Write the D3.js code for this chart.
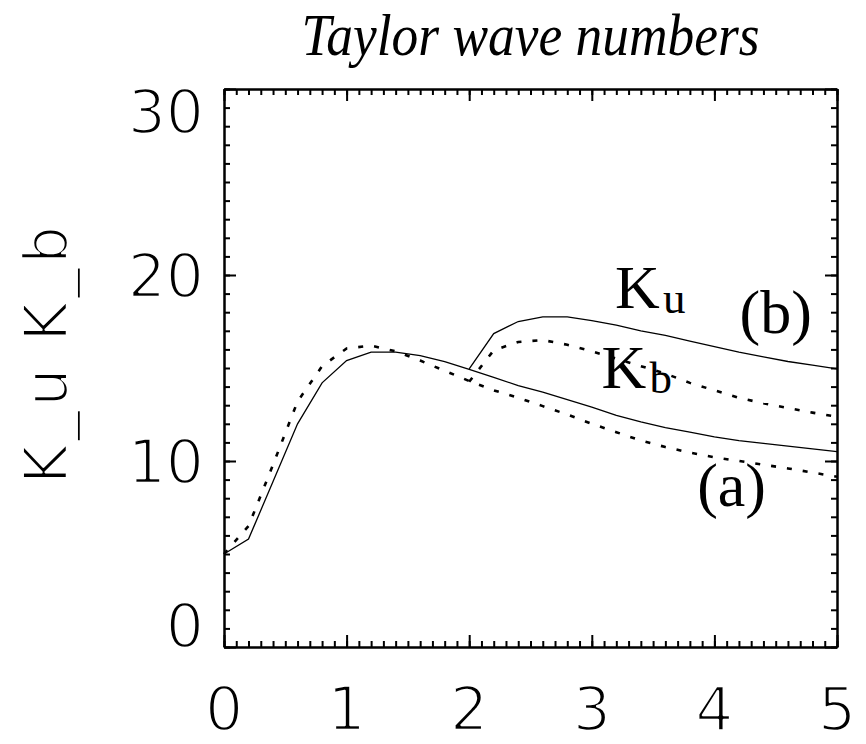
<!DOCTYPE html>
<html>
<head>
<meta charset="utf-8">
<script src="https://cdn.jsdelivr.net/npm/d3@7"></script>
<style>
  html, body { margin: 0; padding: 0; background: #fff; }
  svg { display: block; }
</style>
</head>
<body>
<svg id="chart" width="866" height="744"></svg>
<script>
// ---------- data ----------
const title = "Taylor wave numbers";
const yAxisTitle = "K_u K_b";
const xTicks = [0, 1, 2, 3, 4, 5];
const yTicks = [0, 10, 20, 30];

// curve (a): x from 0 to 5 step 0.2
const xA = [0, 0.2, 0.4, 0.6, 0.8, 1.0, 1.2, 1.4, 1.6, 1.8, 2.0, 2.2, 2.4, 2.6, 2.8, 3.0,
            3.2, 3.4, 3.6, 3.8, 4.0, 4.2, 4.4, 4.6, 4.8, 5.0];
const kuA = [5.0, 5.8, 8.9, 12.0, 14.2, 15.4, 15.85, 15.85, 15.66, 15.34, 14.93, 14.5, 14.05, 13.7, 13.3, 12.9,
             12.45, 12.1, 11.8, 11.55, 11.3, 11.1, 10.95, 10.8, 10.65, 10.5];
const kbA = [5.0, 6.5, 9.8, 13.2, 15.1, 16.05, 16.2, 15.9, 15.4, 14.85, 14.3, 13.8, 13.4, 12.95, 12.5, 12.0,
             11.55, 11.1, 10.75, 10.45, 10.2, 10.0, 9.8, 9.6, 9.38, 9.15];

// curve (b): x from 2 to 5 step 0.2
const xB = [2.0, 2.2, 2.4, 2.6, 2.8, 3.0, 3.2, 3.4, 3.6, 3.8, 4.0, 4.2, 4.4, 4.6, 4.8, 5.0];
const kuB = [14.95, 16.85, 17.5, 17.75, 17.75, 17.55, 17.3, 17.0, 16.75, 16.45, 16.15, 15.85, 15.6, 15.35, 15.15, 14.95];
const kbB = [14.26, 15.95, 16.4, 16.5, 16.25, 15.9, 15.5, 15.1, 14.7, 14.2, 13.8, 13.4, 13.1, 12.85, 12.6, 12.38];

// annotation labels (data coordinates)
const annotations = [
  { main: "K", sub: "u", x: 3.19, y: 18.2 },
  { main: "K", sub: "b", x: 3.08, y: 13.9 },
  { main: "(b)", sub: "", x: 4.5, y: 16.9, center: true },
  { main: "(a)", sub: "", x: 4.14, y: 7.6, center: true }
];

// ---------- layout ----------
const svg = d3.select("#chart");
const L = 224, R = 837, T = 89, B = 647;
const x = d3.scaleLinear().domain([0, 5]).range([L, R]);
const y = d3.scaleLinear().domain([0, 30]).range([B, T]);

const tickFont = "'DejaVu Sans', sans-serif";
const tickSize = 60;

// thin stroke-font look: erode glyphs with a white outline painted over the fill
function thinText(sel) {
  sel.attr("font-family", tickFont)
     .attr("font-size", tickSize)
     .attr("fill", "#000")
     .attr("stroke", "#fff")
     .attr("stroke-width", 2.4)
     .attr("stroke-linejoin", "round");
}

// ---------- axes (ticks inward, box on all sides) ----------
const xMinor = d3.range(0, 5.0001, 0.1).map(v => +v.toFixed(2));
const yMinor = d3.range(0, 30.001, 1);

function styleAxis(g) {
  g.selectAll("path.domain").attr("stroke", "#000").attr("stroke-width", 2);
  g.selectAll(".tick line").attr("stroke", "#000").attr("stroke-width", 2);
  g.selectAll(".tick text").remove();
}

const axes = [
  [d3.axisBottom, x, xMinor, xTicks, `translate(0,${B})`],
  [d3.axisTop, x, xMinor, xTicks, `translate(0,${T})`],
  [d3.axisLeft, y, yMinor, yTicks, `translate(${L},0)`],
  [d3.axisRight, y, yMinor, yTicks, `translate(${R},0)`]
];
axes.forEach(([fn, sc, minor, major, tr]) => {
  svg.append("g").attr("transform", tr)
    .call(fn(sc).tickValues(minor).tickSize(-6).tickSizeOuter(0).tickFormat(""))
    .call(styleAxis);
  svg.append("g").attr("transform", tr)
    .call(fn(sc).tickValues(major).tickSize(-12).tickSizeOuter(0).tickFormat(""))
    .call(styleAxis);
});

// ---------- tick labels ----------
const digitH = 0.729 * tickSize;
svg.append("g").selectAll("text").data(xTicks).join("text")
  .attr("x", d => x(d))
  .attr("y", B + 83)
  .attr("text-anchor", "middle")
  .call(thinText)
  .text(d => d);

svg.append("g").selectAll("text").data(yTicks).join("text")
  .attr("x", L - 20)
  .attr("y", d => Math.max(T + digitH, Math.min(B, y(d) + digitH / 2)))
  .attr("text-anchor", "end")
  .call(thinText)
  .text(d => d);

// y axis title
svg.append("text")
  .attr("transform", `translate(67,355) rotate(-90)`)
  .attr("text-anchor", "middle")
  .call(thinText)
  .attr("textLength", 258)
  .attr("lengthAdjust", "spacing")
  .text(yAxisTitle);

// title
svg.append("text")
  .attr("x", (L + R) / 2)
  .attr("y", 55)
  .attr("text-anchor", "middle")
  .attr("font-family", "'Liberation Serif', 'DejaVu Serif', serif")
  .attr("font-style", "italic")
  .attr("font-size", 60)
  .attr("textLength", 458)
  .attr("lengthAdjust", "spacingAndGlyphs")
  .text(title);

// ---------- curves ----------
const line = d3.line().x(d => x(d[0])).y(d => y(d[1]));
const series = [
  { xs: xA, ys: kuA, dash: false },
  { xs: xA, ys: kbA, dash: true },
  { xs: xB, ys: kuB, dash: false },
  { xs: xB, ys: kbB, dash: true }
];
svg.append("g").selectAll("path").data(series).join("path")
  .attr("d", s => line(s.xs.map((v, i) => [v, s.ys[i]])))
  .attr("fill", "none")
  .attr("stroke", "#000")
  .attr("stroke-width", s => s.dash ? 2.6 : 1.3)
  .attr("stroke-dasharray", s => s.dash ? "5,11" : null);

// ---------- annotations ----------
const ann = svg.append("g").selectAll("text").data(annotations).join("text")
  .attr("x", d => x(d.x))
  .attr("y", d => y(d.y))
  .attr("text-anchor", d => d.center ? "middle" : "start")
  .attr("font-family", "'Liberation Serif', 'Times New Roman', serif")
  .attr("font-size", 62);
ann.append("tspan").text(d => d.main);
ann.filter(d => d.sub).append("tspan")
  .attr("font-size", 45)
  .attr("dy", 5)
  .attr("dx", 3)
  .text(d => d.sub);
</script>
</body>
</html>
